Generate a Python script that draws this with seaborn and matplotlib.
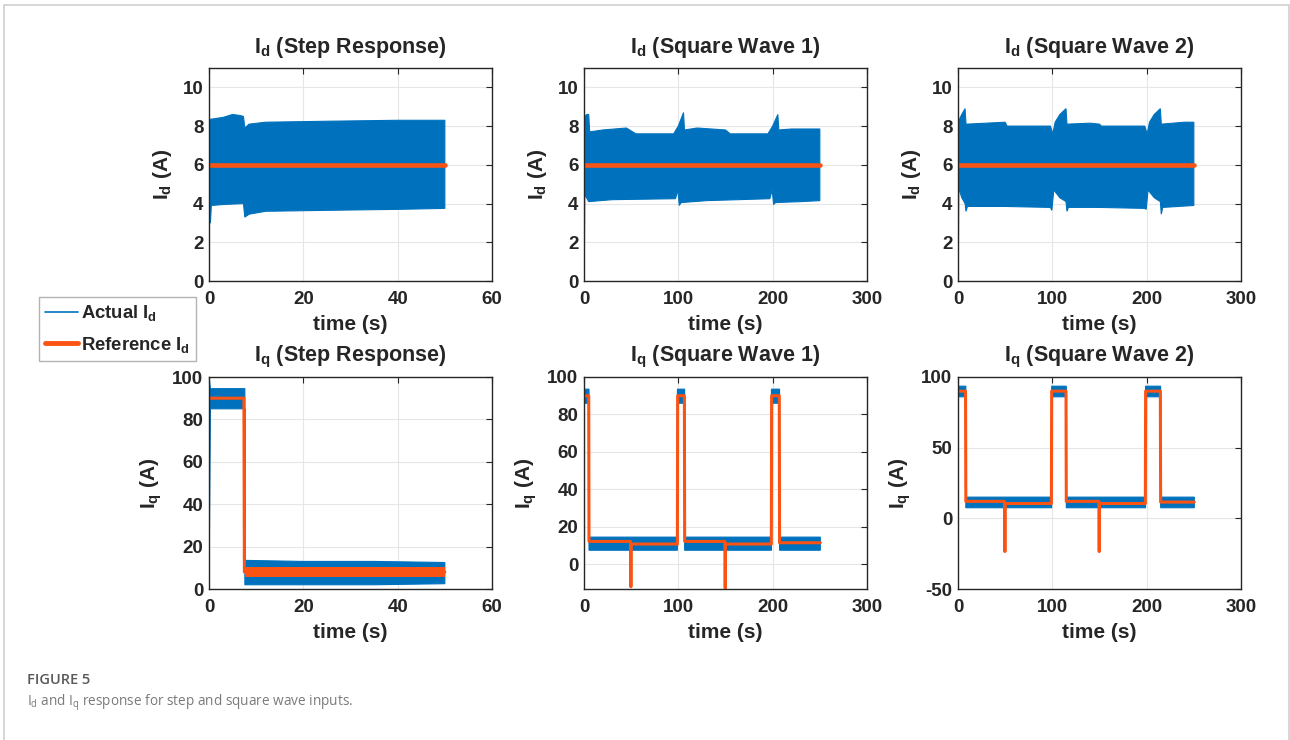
import numpy as np
import seaborn as sns
import matplotlib.pyplot as plt
from matplotlib.lines import Line2D
from matplotlib.patches import Rectangle

# Id, step response (0-50 s): envelope of the noisy measured current
id_step_hi_t = [0, 0.3, 3, 5, 6.5, 7.3, 7.6, 8.5, 12, 25, 40, 50]
id_step_hi = [8.3, 8.35, 8.45, 8.6, 8.55, 8.5, 7.9, 8.1, 8.2, 8.25, 8.3, 8.3]
id_step_lo_t = [0, 0.3, 0.5, 3, 7.3, 7.6, 8.5, 12, 25, 40, 50]
id_step_lo = [3.0, 3.0, 3.9, 3.95, 4.0, 3.3, 3.45, 3.6, 3.65, 3.7, 3.75]
id_step_ref_t = [0, 50]
id_step_ref = [6, 6]

# Id, square wave 1 (0-250 s)
id_sw1_hi_t = [0, 1, 3, 5, 6, 20, 45, 55, 95, 100, 105.5, 106.5, 120, 150, 155, 195, 200, 205.5, 206.5, 220, 250]
id_sw1_hi = [8.2, 8.5, 8.6, 8.6, 7.7, 7.8, 7.9, 7.6, 7.6, 8.0, 8.7, 7.8, 7.9, 7.8, 7.6, 7.6, 8.0, 8.6, 7.8, 7.85, 7.85]
id_sw1_lo_t = [0, 0.5, 0.8, 1.5, 5, 30, 97, 99.5, 101, 103, 130, 197, 199.5, 201, 203, 230, 250]
id_sw1_lo = [2.0, 2.0, 4.6, 4.4, 4.1, 4.2, 4.25, 4.7, 3.9, 4.05, 4.15, 4.25, 4.7, 3.95, 4.05, 4.1, 4.15]
id_sw1_ref_t = [0, 250]
id_sw1_ref = [6, 6]

# Id, square wave 2 (0-250 s)
id_sw2_hi_t = [0, 1, 4, 7.5, 8.5, 30, 50, 52, 98, 100.5, 103, 108, 114.5, 115.5, 140, 150, 152,
               198, 200.5, 203, 208, 214.5, 215.5, 240, 250]
id_sw2_hi = [8.2, 8.3, 8.6, 8.9, 8.1, 8.15, 8.2, 8.0, 8.0, 7.6, 8.2, 8.6, 8.9, 8.1, 8.15, 8.1, 8.0,
             8.0, 7.6, 8.2, 8.6, 8.9, 8.1, 8.2, 8.2]
id_sw2_lo_t = [0, 0.5, 0.8, 4, 7.5, 8.5, 10, 50, 98, 99.5, 101.5, 108, 114.5, 115.5, 117, 150,
               198, 199.5, 201.5, 208, 214.5, 215.5, 217, 250]
id_sw2_lo = [2.0, 2.0, 4.8, 4.3, 4.0, 3.6, 3.85, 3.85, 3.8, 3.65, 4.7, 4.3, 4.1, 3.6, 3.8, 3.8,
             3.75, 3.7, 4.7, 4.3, 4.1, 3.45, 3.8, 3.9]
id_sw2_ref_t = [0, 250]
id_sw2_ref = [6, 6]

# Iq, step response (0-50 s)
iq_step_hi_t = [0, 0.3, 7.6, 7.6, 20, 35, 50]
iq_step_hi = [100, 94.5, 94.5, 13.5, 13, 13, 12.5]
iq_step_lo_t = [0, 0.3, 7.6, 7.6, 20, 35, 50]
iq_step_lo = [0, 85, 85, 2, 2, 2, 2.5]
iq_step_ref_t = [0, 7.4, 7.5, 50]
iq_step_ref = [90, 90, 8, 8]
iq_step_ref_band_t = [7.6, 50]
iq_step_ref_band_hi = [10.5, 10.5]
iq_step_ref_band_lo = [5.5, 5.5]

# Iq, square wave 1 (0-250 s)
iq_sw1_env_t = [0, 0.3, 5.3, 5.3, 99, 99, 106.7, 106.7, 198.7, 198.7, 207.3, 207.3, 250.5]
iq_sw1_hi = [100, 93.5, 93.5, 14.5, 14.5, 93.5, 93.5, 14.5, 14.5, 93.5, 93.5, 14.5, 14.5]
iq_sw1_lo = [0, 86, 86, 7.5, 7.5, 86, 86, 7.5, 7.5, 86, 86, 7.5, 7.5]
iq_sw1_ref_t = [0, 5, 5.3, 49.4, 49.7, 50, 99, 99.3, 106.4, 106.7, 149.4, 149.7, 150,
                198.6, 198.9, 207, 207.3, 250.5]
iq_sw1_ref = [90, 90, 12.2, 12.2, -12, 10.8, 10.8, 90, 90, 12.2, 12.2, -12.8, 10.8,
              10.8, 90, 90, 11.5, 11.5]

# Iq, square wave 2 (0-250 s)
iq_sw2_env_t = [0, 0.3, 8.3, 8.3, 99.3, 99.3, 114.8, 114.8, 198.8, 198.8, 214.8, 214.8, 250.5]
iq_sw2_hi = [100, 93.5, 93.5, 15, 15, 93.5, 93.5, 15, 15, 93.5, 93.5, 15, 15]
iq_sw2_lo = [0, 86, 86, 7.5, 7.5, 86, 86, 7.5, 7.5, 86, 86, 7.5, 7.5]
iq_sw2_ref_t = [0, 8, 8.3, 49.4, 49.7, 50, 99, 99.3, 114.5, 114.8, 149.4, 149.7, 150,
                198.6, 198.9, 214.5, 214.8, 250.5]
iq_sw2_ref = [90, 90, 12, 12, -23.5, 10.5, 10.5, 90, 90, 12, 12, -23.5, 10.5,
              10.5, 90, 90, 11.5, 11.5]

titles = ['(Step Response)', '(Square Wave 1)', '(Square Wave 2)']

BLUE = '#0072BD'
ORANGE = '#FA5314'
INK = '#262626'
W, H = 1290, 740

sns.set_style('white')
plt.rcParams['font.family'] = ['Liberation Sans', 'DejaVu Sans']
plt.rcParams['font.weight'] = 'bold'
plt.rcParams['mathtext.fontset'] = 'custom'
plt.rcParams['mathtext.bf'] = 'Liberation Sans:bold'
plt.rcParams['mathtext.rm'] = 'Open Sans:normal'
plt.rcParams['mathtext.it'] = 'Liberation Sans:bold'
plt.rcParams['mathtext.default'] = 'bf'
plt.rcParams['axes.unicode_minus'] = False


def box(l, t, r, b):
    return [l / W, 1 - b / H, (r - l) / W, (b - t) / H]


fig = plt.figure(figsize=(12.9, 7.4), dpi=100)
cols = [(209, 492), (584, 867), (958, 1241)]
rows = [(68, 281), (377, 589)]


def style(ax, xlim, xticks, ylim, yticks, var, title):
    ax.set_xlim(*xlim)
    ax.set_ylim(*ylim)
    ax.set_xticks(xticks)
    ax.set_yticks(yticks)
    ax.set_axisbelow(True)
    ax.grid(True, color='#e6e6e6', lw=0.8)
    ax.tick_params(direction='in', top=True, right=True, length=4, width=0.8,
                   labelsize=13.5, colors=INK)
    ax.tick_params(axis='x', pad=7.5)
    ax.tick_params(axis='y', pad=4)
    for lab in ax.get_xticklabels() + ax.get_yticklabels():
        lab.set_fontweight('bold')
    for s in ax.spines.values():
        s.set_visible(True)
        s.set_color(INK)
        s.set_linewidth(1.0)
    ax.set_xlabel('time (s)', fontsize=15, fontweight='bold', color=INK, labelpad=5)
    ax.set_ylabel('$I_%s$ (A)' % var, fontsize=15, fontweight='bold', color=INK, labelpad=6)
    ax.set_title('$I_%s$ %s' % (var, title), fontsize=15.5, fontweight='bold', pad=11)


def band(ax, t_hi, hi, t_lo, lo, color):
    xs = np.r_[t_hi, t_lo[::-1]]
    ys = np.r_[hi, lo[::-1]]
    ax.fill(xs, ys, color=color, lw=0.8)


def ref(ax, t, y, lw):
    sns.lineplot(x=t, y=y, ax=ax, color=ORANGE, lw=lw, estimator=None, sort=False)


# top row: Id
id_sets = [
    (id_step_hi_t, id_step_hi, id_step_lo_t, id_step_lo, id_step_ref_t, id_step_ref),
    (id_sw1_hi_t, id_sw1_hi, id_sw1_lo_t, id_sw1_lo, id_sw1_ref_t, id_sw1_ref),
    (id_sw2_hi_t, id_sw2_hi, id_sw2_lo_t, id_sw2_lo, id_sw2_ref_t, id_sw2_ref),
]
for i, (th, h, tl, lo, tr, r) in enumerate(id_sets):
    ax = fig.add_axes(box(cols[i][0], rows[0][0], cols[i][1], rows[0][1]))
    band(ax, th, h, tl, lo, BLUE)
    ref(ax, tr, r, 3.3)
    if i == 0:
        style(ax, (0, 60), [0, 20, 40, 60], (0, 11), [0, 2, 4, 6, 8, 10], 'd', titles[i])
    else:
        style(ax, (0, 300), [0, 100, 200, 300], (0, 11), [0, 2, 4, 6, 8, 10], 'd', titles[i])

# bottom row: Iq
ax = fig.add_axes(box(cols[0][0], rows[1][0], cols[0][1], rows[1][1]))
band(ax, iq_step_hi_t, iq_step_hi, iq_step_lo_t, iq_step_lo, BLUE)
ax.fill_between(iq_step_ref_band_t, iq_step_ref_band_lo, iq_step_ref_band_hi, color=ORANGE, lw=0)
ref(ax, iq_step_ref_t, iq_step_ref, 2.2)
style(ax, (0, 60), [0, 20, 40, 60], (0, 100), [0, 20, 40, 60, 80, 100], 'q', titles[0])

ax = fig.add_axes(box(cols[1][0], rows[1][0], cols[1][1], rows[1][1]))
band(ax, iq_sw1_env_t, iq_sw1_hi, iq_sw1_env_t, iq_sw1_lo, BLUE)
ref(ax, iq_sw1_ref_t, iq_sw1_ref, 2.2)
style(ax, (0, 300), [0, 100, 200, 300], (-13.2, 100), [0, 20, 40, 60, 80, 100], 'q', titles[1])

ax = fig.add_axes(box(cols[2][0], rows[1][0], cols[2][1], rows[1][1]))
band(ax, iq_sw2_env_t, iq_sw2_hi, iq_sw2_env_t, iq_sw2_lo, BLUE)
ref(ax, iq_sw2_ref_t, iq_sw2_ref, 2.2)
style(ax, (0, 300), [0, 100, 200, 300], (-50, 100), [-50, 0, 50, 100], 'q', titles[2])

# shared legend
handles = [Line2D([], [], color=BLUE, lw=1.2), Line2D([], [], color=ORANGE, lw=3.5)]
fig.legend(handles, ['Actual $I_d$', 'Reference $I_d$'], loc='upper left',
           bbox_to_anchor=(39 / W, 1 - 297 / H), frameon=True, fancybox=False,
           edgecolor='#a0a0a0', prop={'weight': 'bold', 'size': 13.3},
           handlelength=1.75, handletextpad=0.15, borderpad=0.35, labelspacing=0.6,
           borderaxespad=0)

# caption and frame
fig.text(27 / W, 1 - 680 / H, 'FIGURE 5', va='center', ha='left', family='Open Sans',
         fontweight='semibold', color='#595959', fontsize=10.5)
fig.text(27 / W, 1 - 703 / H, r'$\mathrm{I_d}$ and $\mathrm{I_q}$ response for step and square wave inputs.',
         va='center', ha='left', family='Open Sans', fontweight='normal', color='#7a7a7a', fontsize=9.8)
fig.patches.append(Rectangle((4 / W, -0.02), 1285 / W, 1 - 5 / H + 0.02, transform=fig.transFigure,
                             fill=False, edgecolor='#d0d0d0', lw=1.2))

fig.savefig('out.png', dpi=100, facecolor='white')
